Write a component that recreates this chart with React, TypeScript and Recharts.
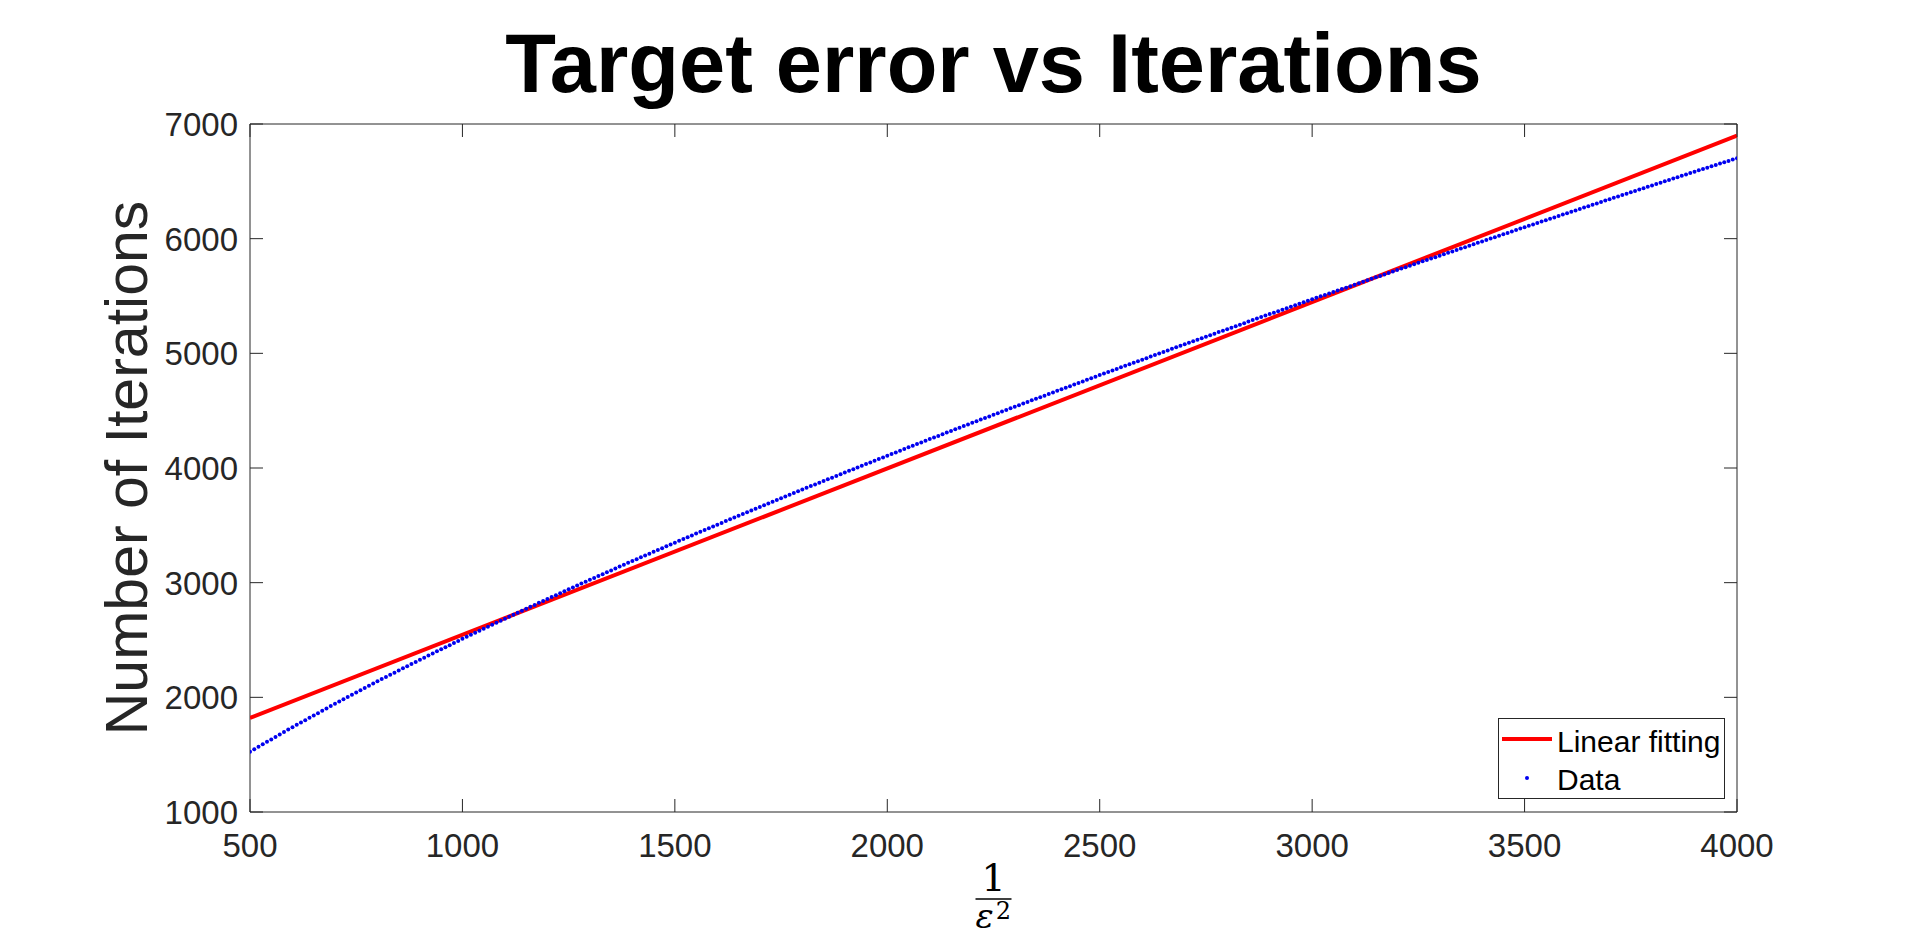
import {
  ComposedChart,
  Line,
  Scatter,
  XAxis,
  YAxis,
  ReferenceArea,
  Legend
} from "recharts";

// axis ticks
const X_TICKS = [500, 1000, 1500, 2000, 2500, 3000, 3500, 4000];
const Y_TICKS = [1000, 2000, 3000, 4000, 5000, 6000, 7000];

// linear fit end points
const FIT_X = [500, 4000];
const FIT_Y = [1820, 6898];

// measured data, one point every 10 units from 500 to 4000
const DATA_X_START = 500;
const DATA_X_STEP = 10;
const DATA_Y = [
  1526, 1547, 1569, 1590, 1612, 1633, 1654, 1676, 1697, 1719,
  1740, 1760, 1781, 1801, 1822, 1842, 1862, 1883, 1903, 1924,
  1944, 1964, 1983, 2003, 2022, 2042, 2062, 2081, 2101, 2120,
  2140, 2159, 2178, 2196, 2215, 2234, 2253, 2272, 2290, 2309,
  2328, 2346, 2364, 2383, 2401, 2419, 2437, 2455, 2474, 2492,
  2510, 2528, 2545, 2563, 2580, 2598, 2616, 2633, 2651, 2668,
  2686, 2703, 2720, 2738, 2755, 2772, 2789, 2806, 2824, 2841,
  2858, 2875, 2891, 2908, 2925, 2942, 2958, 2975, 2992, 3008,
  3025, 3041, 3058, 3074, 3091, 3107, 3123, 3140, 3156, 3173,
  3189, 3205, 3221, 3237, 3253, 3269, 3285, 3301, 3317, 3333,
  3349, 3365, 3380, 3396, 3412, 3428, 3443, 3459, 3475, 3490,
  3506, 3521, 3537, 3552, 3568, 3583, 3598, 3614, 3629, 3645,
  3660, 3675, 3690, 3706, 3721, 3736, 3751, 3766, 3782, 3797,
  3812, 3827, 3842, 3857, 3872, 3887, 3901, 3916, 3931, 3946,
  3961, 3976, 3990, 4005, 4019, 4034, 4049, 4063, 4078, 4092,
  4107, 4122, 4136, 4151, 4165, 4180, 4194, 4209, 4223, 4238,
  4252, 4266, 4280, 4295, 4309, 4323, 4337, 4351, 4366, 4380,
  4394, 4408, 4422, 4436, 4450, 4464, 4478, 4492, 4506, 4520,
  4534, 4548, 4562, 4576, 4590, 4604, 4617, 4631, 4645, 4659,
  4673, 4687, 4700, 4714, 4728, 4742, 4755, 4769, 4783, 4796,
  4810, 4824, 4837, 4851, 4864, 4878, 4891, 4905, 4918, 4932,
  4945, 4958, 4972, 4985, 4999, 5012, 5025, 5039, 5052, 5066,
  5079, 5092, 5105, 5119, 5132, 5145, 5158, 5171, 5185, 5198,
  5211, 5224, 5237, 5250, 5263, 5277, 5290, 5303, 5316, 5329,
  5342, 5355, 5368, 5381, 5394, 5407, 5419, 5432, 5445, 5458,
  5471, 5484, 5497, 5509, 5522, 5535, 5548, 5561, 5573, 5586,
  5599, 5612, 5624, 5637, 5650, 5663, 5675, 5688, 5701, 5713,
  5726, 5739, 5751, 5764, 5776, 5789, 5802, 5814, 5827, 5839,
  5852, 5864, 5877, 5889, 5902, 5914, 5926, 5939, 5951, 5964,
  5976, 5988, 6001, 6013, 6026, 6038, 6050, 6063, 6075, 6088,
  6100, 6112, 6124, 6137, 6149, 6161, 6173, 6185, 6198, 6210,
  6222, 6234, 6246, 6259, 6271, 6283, 6295, 6307, 6320, 6332,
  6344, 6356, 6368, 6380, 6392, 6404, 6416, 6428, 6440, 6452,
  6464, 6476, 6488, 6500, 6512, 6524, 6536, 6548, 6560, 6572,
  6584, 6596, 6608, 6619, 6631, 6643, 6655, 6667, 6678, 6690,
  6702
];

const fitData = FIT_X.map((x, i) => ({ x, y: FIT_Y[i] }));
const pointData = DATA_Y.map((y, i) => ({ x: DATA_X_START + i * DATA_X_STEP, y }));

const AXIS = "#262626";
const FONT = '"Liberation Sans", Arial, Helvetica, sans-serif';
const SERIF = '"DejaVu Serif", "Liberation Serif", serif';
const TICK_LEN = 13;
// plot box edges (page pixels), used for the mirrored ticks on top / right
const PLOT_TOP = 124;
const PLOT_RIGHT = 1737;

const BottomTick = ({ x, y, payload }: any) => (
  <g>
    <line x1={x} y1={y} x2={x} y2={y - TICK_LEN} stroke={AXIS} strokeWidth={1} />
    <line x1={x} y1={PLOT_TOP} x2={x} y2={PLOT_TOP + TICK_LEN} stroke={AXIS} strokeWidth={1} />
    <text x={x} y={y + 45} textAnchor="middle" fontSize={33} fontFamily={FONT} fill={AXIS}>
      {payload.value}
    </text>
  </g>
);

const LeftTick = ({ x, y, payload }: any) => (
  <g>
    <line x1={x} y1={y} x2={x + TICK_LEN} y2={y} stroke={AXIS} strokeWidth={1} />
    <line x1={PLOT_RIGHT} y1={y} x2={PLOT_RIGHT - TICK_LEN} y2={y} stroke={AXIS} strokeWidth={1} />
    <text x={x - 12} y={y + 12} textAnchor="end" fontSize={33} fontFamily={FONT} fill={AXIS}>
      {payload.value}
    </text>
  </g>
);

const TitleLabel = ({ viewBox }: any) => {
  const cx = viewBox.x + viewBox.width / 2;
  return (
    <text x={cx} y={viewBox.y - 32} textAnchor="middle" fontSize={83} fontWeight="bold" fontFamily={FONT} fill="#000">
      Target error vs Iterations
    </text>
  );
};

// 1 / epsilon^2 drawn as a stacked fraction
const XLabel = ({ viewBox }: any) => {
  const cx = viewBox.x + viewBox.width / 2;
  const top = viewBox.y;
  return (
    <g fontFamily={SERIF} fill="#000">
      <text x={cx} y={top + 79} textAnchor="middle" fontSize={38}>1</text>
      <line x1={cx - 18} x2={cx + 18} y1={top + 87} y2={top + 87} stroke="#000" strokeWidth={1.6} />
      <text x={cx - 18} y={top + 116} textAnchor="start" fontSize={34}>
        <tspan fontStyle="italic">ε</tspan>
        <tspan dx={2} dy={-9} fontSize={24}>2</tspan>
      </text>
    </g>
  );
};

const YLabel = ({ viewBox }: any) => {
  const cy = viewBox.y + viewBox.height / 2;
  const x = 147;
  return (
    <text
      x={x}
      y={cy}
      textAnchor="middle"
      fontSize={59}
      fontFamily={FONT}
      fill={AXIS}
      transform={`rotate(-90, ${x}, ${cy})`}
    >
      Number of Iterations
    </text>
  );
};

const LegendBox = () => (
  <svg width={227} height={81} style={{ display: "block" }}>
    <rect x={0.5} y={0.5} width={226} height={80} fill="#fff" stroke={AXIS} strokeWidth={1} />
    <line x1={4} x2={54} y1={21} y2={21} stroke="#ff0000" strokeWidth={4} />
    <text x={59} y={34} fontSize={30} fontFamily={FONT} fill="#000">Linear fitting</text>
    <circle cx={29} cy={60} r={2} fill="#0000f0" />
    <text x={59} y={72} fontSize={30} fontFamily={FONT} fill="#000">Data</text>
  </svg>
);

const Dot = (props: any) => <circle cx={props.cx} cy={props.cy} r={2} fill="#0000f0" />;

export default function App() {
  return (
    <div style={{ position: "absolute", left: 0, top: 0, width: 1920, height: 937, background: "#fff" }}>
      <ComposedChart width={1920} height={937} margin={{ top: 124, right: 183, bottom: 65, left: 160 }}>
        <XAxis
          xAxisId="bottom"
          type="number"
          dataKey="x"
          domain={[500, 4000]}
          ticks={X_TICKS}
          interval={0}
          allowDataOverflow
          height={60}
          tickSize={0}
          tickMargin={0}
          axisLine={false}
          tickLine={false}
          tick={<BottomTick />}
          label={<XLabel />}
        />
        <YAxis
          yAxisId="left"
          type="number"
          dataKey="y"
          domain={[1000, 7000]}
          ticks={Y_TICKS}
          interval={0}
          allowDataOverflow
          width={90}
          tickSize={0}
          tickMargin={0}
          axisLine={false}
          tickLine={false}
          tick={<LeftTick />}
          label={<YLabel />}
        />
        <Line
          xAxisId="bottom"
          yAxisId="left"
          data={fitData}
          dataKey="y"
          name="Linear fitting"
          type="linear"
          stroke="#ff0000"
          strokeWidth={4}
          dot={false}
          activeDot={false}
          isAnimationActive={false}
        />
        <Scatter
          xAxisId="bottom"
          yAxisId="left"
          data={pointData}
          dataKey="y"
          name="Data"
          fill="#0000f0"
          shape={<Dot />}
          isAnimationActive={false}
        />
        <ReferenceArea
          xAxisId="bottom"
          yAxisId="left"
          x1={500}
          x2={4000}
          y1={1000}
          y2={7000}
          fill="none"
          fillOpacity={0}
          stroke={AXIS}
          strokeWidth={1}
          label={<TitleLabel />}
        />
        <Legend
          layout="horizontal"
          align="center"
          verticalAlign="middle"
          wrapperStyle={{ left: 1498, top: 718, width: 227, height: 81 }}
          content={() => <LegendBox />}
        />
      </ComposedChart>
    </div>
  );
}
